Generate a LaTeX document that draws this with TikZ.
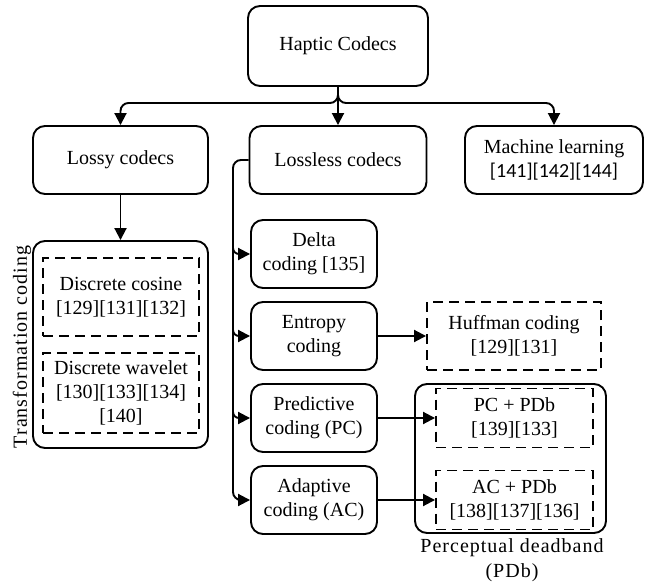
\documentclass[tikz,border=0pt]{standalone}
\usepackage{fontspec}
\setmainfont{Liberation Serif}
\newfontfamily\refsans{Carlito}
\newfontfamily\spacedserif[LetterSpace=5]{Liberation Serif}
\usetikzlibrary{arrows.meta,calc}

\begin{document}
\begin{tikzpicture}[x=1pt,y=-1pt,
  every node/.style={font=\fontsize{20}{24}\selectfont, align=center, inner sep=0pt},
  box/.style={draw, line width=1.9pt, rounded corners=12pt},
  dbox/.style={draw, line width=1.9pt, dash pattern=on 10pt off 6pt},
  wire/.style={line width=1.9pt},
  arr/.style={wire, -{Triangle[length=12pt,width=12pt]}},
  caption/.style={font=\spacedserif\fontsize{20}{25}\selectfont}]

\useasboundingbox (0,0) rectangle (646,583);

% top level
\node[box, minimum width=180pt, minimum height=80pt] (haptic) at (338,46) {Haptic Codecs};
\node[box, minimum width=175pt, minimum height=68pt] (lossy) at (120.5,160) {Lossy codecs};
\node[box, minimum width=177pt, minimum height=68pt] (lossless) at (338,160) {Lossless codecs};
\node[box, minimum width=178pt, minimum height=68pt] (ml) at (554,160) {Machine learning\\{\refsans [141][142][144]}};

% transformation coding group
\node[box, minimum width=175pt, minimum height=207pt] (tc) at (120.5,344.5) {};
\node[dbox, minimum width=156pt, minimum height=78pt] (dct) at (121,297) {Discrete cosine\\{}[129][131][132]};
\node[dbox, minimum width=156pt, minimum height=80pt] (dwt) at (121,393) {Discrete wavelet\\{}[130][133][134]\\{}[140]};
\node[caption, rotate=90] (tclabel) at (22,347) {Transformation coding};

% lossless branches
\node[box, minimum width=126pt, minimum height=68pt] (delta) at (314,254) {Delta\\coding [135]};
\node[box, minimum width=126pt, minimum height=68pt] (entropy) at (314,336) {Entropy\\coding};
\node[box, minimum width=126pt, minimum height=68pt] (predictive) at (314,418) {Predictive\\coding (PC)};
\node[box, minimum width=126pt, minimum height=68pt] (adaptive) at (314,500) {Adaptive\\coding (AC)};

\node[dbox, minimum width=174pt, minimum height=68pt] (huff) at (514,336) {Huffman coding\\{}[129][131]};

% perceptual deadband group
\node[box, minimum width=191pt, minimum height=149pt] (pdb) at (510.5,458.5) {};
\node[dbox, minimum width=157pt, minimum height=59pt] (pcpdb) at (514.5,418) {PC + PDb\\{}[139][133]};
\node[dbox, minimum width=157pt, minimum height=59pt] (acpdb) at (514.5,500) {AC + PDb\\{}[138][137][136]};
\node[caption] (pdblabel) at (512,560) {Perceptual deadband\\(PDb)};

% connectors from the root
\coordinate (fork) at (338,103);
\draw[arr, rounded corners=8pt] (haptic.south) -- (fork) -- (fork -| lossy.north) -- (lossy.north);
\draw[arr, rounded corners=8pt] (haptic.south) -- (fork) -- (fork -| ml.north) -- (ml.north);
\draw[arr] (haptic.south) -- (lossless.north);

\draw[arr] (lossy.south) -- (tc.north);

% lossless spine
\coordinate (spine) at (233,160);
\draw[arr, rounded corners=8pt] (lossless.west) -- (spine) -- (spine |- adaptive.west) -- (adaptive.west);
\draw[arr, rounded corners=6pt] ($(spine |- delta.west)+(0,-10)$) -- (spine |- delta.west) -- (delta.west);
\draw[arr, rounded corners=6pt] ($(spine |- entropy.west)+(0,-10)$) -- (spine |- entropy.west) -- (entropy.west);
\draw[arr, rounded corners=6pt] ($(spine |- predictive.west)+(0,-10)$) -- (spine |- predictive.west) -- (predictive.west);

\draw[arr] (entropy.east) -- (huff.west);
\draw[arr] (predictive.east) -- (pcpdb.west);
\draw[arr] (adaptive.east) -- (acpdb.west);

\end{tikzpicture}
\end{document}
